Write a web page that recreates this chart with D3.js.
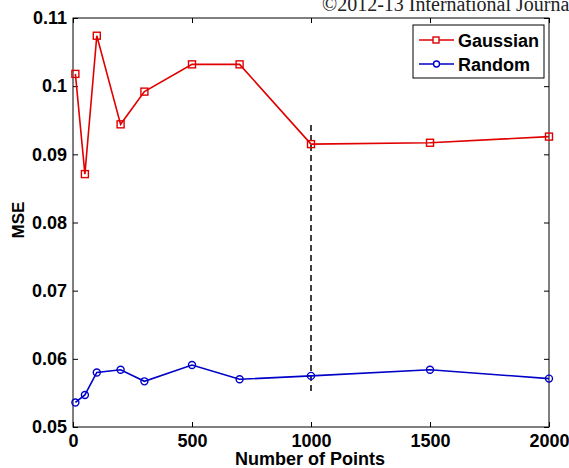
<!DOCTYPE html>
<html><head><meta charset="utf-8">
<script src="https://cdn.jsdelivr.net/npm/d3@7"></script>
<style>body{margin:0;background:#fff;overflow:hidden}svg{display:block}</style>
</head><body>
<script>
const points = [10, 50, 100, 200, 300, 500, 700, 1000, 1500, 2000];
const gaussian = [0.1018, 0.0871, 0.1074, 0.0944, 0.0992, 0.1032, 0.1032, 0.0915, 0.0917, 0.0926];
const random = [0.0536, 0.0547, 0.0580, 0.0584, 0.0567, 0.0591, 0.0570, 0.0575, 0.0584, 0.0571];
const xTicks = [0, 500, 1000, 1500, 2000];
const yTicks = [0.05, 0.06, 0.07, 0.08, 0.09, 0.1, 0.11];
const yTickLabels = ["0.05", "0.06", "0.07", "0.08", "0.09", "0.1", "0.11"];
const markerLine = {x: 1000, y0: 0.0548, y1: 0.0943};

const W = 569, H = 468;
const m = {l: 73, r: 20, t: 18, b: 41};
const svg = d3.select("body").append("svg").attr("width", W).attr("height", H);
const x = d3.scaleLinear().domain([0, 2000]).range([m.l, W - m.r]);
const y = d3.scaleLinear().domain([0.05, 0.11]).range([H - m.b, m.t]);
const font = "Arial, 'Liberation Sans', sans-serif";

svg.append("text").attr("x", 322).attr("y", 11).attr("font-family", "'Liberation Serif', 'Times New Roman', serif")
  .attr("font-size", 20).attr("fill", "#222").text("©2012-13 International Journal");

// box
svg.append("rect").attr("x", x(0)).attr("y", y(0.11)).attr("width", x(2000) - x(0)).attr("height", y(0.05) - y(0.11))
  .attr("fill", "none").attr("stroke", "#000").attr("stroke-width", 1);

const tl = 5;
const axB = svg.append("g").attr("transform", `translate(0,${y(0.05)})`)
  .call(d3.axisBottom(x).tickValues(xTicks).tickSizeInner(-tl).tickSizeOuter(0).tickPadding(7).tickFormat(d3.format("d")));
const axT = svg.append("g").attr("transform", `translate(0,${y(0.11)})`)
  .call(d3.axisTop(x).tickValues(xTicks).tickSizeInner(-tl).tickSizeOuter(0).tickFormat(""));
const axL = svg.append("g").attr("transform", `translate(${x(0)},0)`)
  .call(d3.axisLeft(y).tickValues(yTicks).tickSizeInner(-tl).tickSizeOuter(0).tickPadding(6).tickFormat((d, i) => yTickLabels[i]));
const axR = svg.append("g").attr("transform", `translate(${x(2000)},0)`)
  .call(d3.axisRight(y).tickValues(yTicks).tickSizeInner(-tl).tickSizeOuter(0).tickFormat(""));
[axB, axT, axL, axR].forEach(a => {
  a.select(".domain").remove();
  a.selectAll("line").attr("stroke", "#000");
  a.selectAll("text").attr("font-family", font).attr("font-size", 18).attr("font-weight", "bold").attr("fill", "#000");
});
axB.selectAll("text").attr("dy", "0.71em");

svg.append("text").attr("x", 310).attr("y", 465).attr("text-anchor", "middle")
  .attr("font-family", font).attr("font-size", 18).attr("font-weight", "bold").text("Number of Points");
svg.append("text").attr("transform", `translate(24,220) rotate(-90)`).attr("text-anchor", "middle")
  .attr("font-family", font).attr("font-size", 17).attr("font-weight", "bold").text("MSE");

// dashed line
svg.append("line").attr("x1", x(markerLine.x)).attr("x2", x(markerLine.x)).attr("y1", y(markerLine.y1)).attr("y2", y(markerLine.y0))
  .attr("stroke", "#000").attr("stroke-width", 1.5).attr("stroke-dasharray", "6,4");

const line = d3.line().x((d, i) => x(points[i])).y(d => y(d));
const red = "#e00000", blue = "#0000c8";
svg.append("path").datum(gaussian).attr("d", line).attr("fill", "none").attr("stroke", red).attr("stroke-width", 1.6);
svg.append("path").datum(random).attr("d", line).attr("fill", "none").attr("stroke", blue).attr("stroke-width", 1.6);
svg.selectAll(".sq").data(gaussian).enter().append("rect")
  .attr("x", (d, i) => x(points[i]) - 3.5).attr("y", d => y(d) - 3.5).attr("width", 7).attr("height", 7)
  .attr("fill", "none").attr("stroke", red).attr("stroke-width", 1.4);
svg.selectAll(".ci").data(random).enter().append("circle")
  .attr("cx", (d, i) => x(points[i])).attr("cy", d => y(d)).attr("r", 3.5)
  .attr("fill", "none").attr("stroke", blue).attr("stroke-width", 1.4);

// legend
const lg = svg.append("g");
lg.append("rect").attr("x", 413).attr("y", 25).attr("width", 131).attr("height", 53).attr("fill", "#fff").attr("stroke", "#000");
[["Gaussian", red, "sq", 40], ["Random", blue, "ci", 64]].forEach(([name, c, mk, ly]) => {
  lg.append("line").attr("x1", 419).attr("x2", 454).attr("y1", ly).attr("y2", ly).attr("stroke", c).attr("stroke-width", 1.6);
  if (mk === "sq") lg.append("rect").attr("x", 433).attr("y", ly - 3).attr("width", 6).attr("height", 6).attr("fill", "#fff").attr("stroke", c).attr("stroke-width", 1.4);
  else lg.append("circle").attr("cx", 436.5).attr("cy", ly).attr("r", 3).attr("fill", "#fff").attr("stroke", c).attr("stroke-width", 1.4);
  lg.append("text").attr("x", 458).attr("y", ly + 6.5).attr("font-family", font).attr("font-size", 18).attr("font-weight", "bold").text(name);
});
</script>
</body></html>
